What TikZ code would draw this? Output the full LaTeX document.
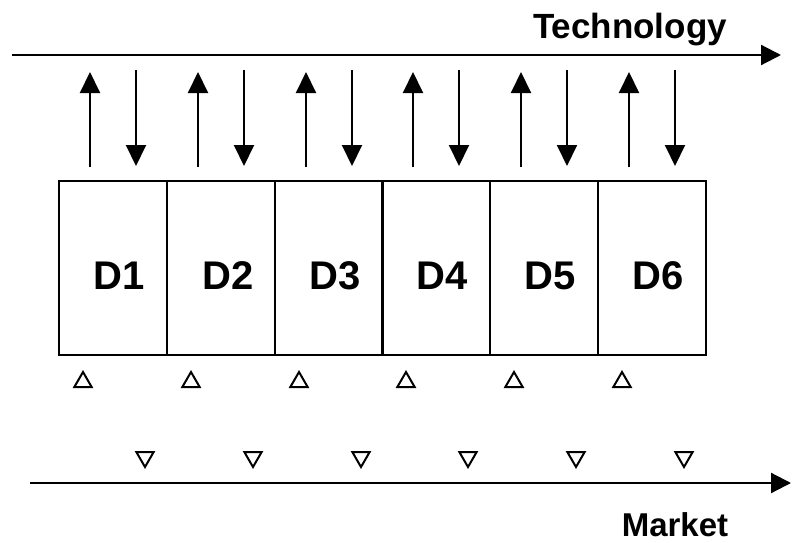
\documentclass[tikz,border=0pt]{standalone}
\usepackage{fontspec}
\setmainfont{Liberation Sans}
\usetikzlibrary{arrows.meta,shapes.geometric}
\begin{document}
\begin{tikzpicture}[x=1pt,y=-1pt,
  dbox/.style={draw,line width=1.5pt,minimum width=108pt,minimum height=174pt,inner sep=0pt},
  dlabel/.style={font=\fontsize{40}{40}\selectfont\bfseries,anchor=base,inner sep=0pt},
  axis/.style={line width=2.2pt,-{Triangle[width=20pt,length=20pt]}},
  vflow/.style={line width=2pt,-{Triangle[width=20pt,length=21pt]}},
  tri/.style={draw,line width=2pt,regular polygon,regular polygon sides=3,minimum size=20pt,inner sep=0pt},
  axlabel/.style={font=\fontsize{35}{35}\selectfont\bfseries,anchor=base,inner sep=0pt}]
\useasboundingbox (0,0) rectangle (792,543);
% axes
\coordinate (tA) at (12,55);
\coordinate (tB) at (781,55);
\coordinate (mA) at (30,483);
\coordinate (mB) at (791,483);
\draw[axis] (tA) -- (tB);
\draw[axis] (mA) -- (mB);
\node[axlabel] (tech) at (630,38) {Technology};
\node[axlabel,font=\fontsize{33}{33}\selectfont\bfseries] (market) at (675,536) {Market};
% boxes
\foreach \i/\x/\tx in {1/113/119,2/221/228,3/329/335,4/436/442,5/544/550,6/652/658}{
  \node[dbox] (D\i) at (\x,268) {};
  \node[dlabel] (L\i) at (\tx,289) {D\i};
  \coordinate (u\i a) at ([xshift=-23pt]D\i.north |- 0,167);
  \coordinate (u\i b) at ([xshift=-23pt]D\i.north |- 0,72);
  \coordinate (d\i a) at ([xshift=23pt]D\i.north |- 0,70);
  \coordinate (d\i b) at ([xshift=23pt]D\i.north |- 0,166);
  \draw[vflow] (u\i a) -- (u\i b);
  \draw[vflow] (d\i a) -- (d\i b);
  \node[tri] (up\i) at (\x-30,382) {};
  \node[tri,shape border rotate=180] (dn\i) at (\x+32,457) {};
}
\end{tikzpicture}
\end{document}
